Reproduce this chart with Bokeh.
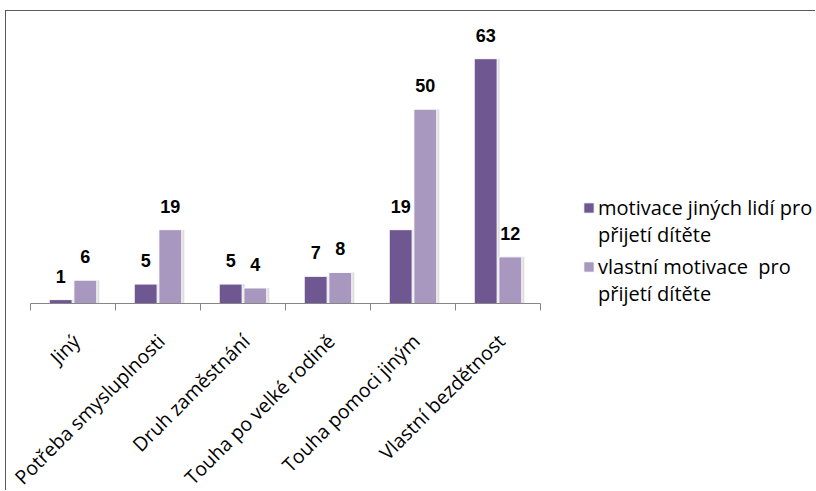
from math import pi
from bokeh.plotting import figure
from bokeh.models import (ColumnDataSource, LabelSet, Legend, LegendItem, Range1d)
from bokeh.core.properties import value
from bokeh.transform import dodge
from bokeh.embed import file_html
from bokeh.resources import INLINE

categories = ["Jiný", "Potřeba smysluplnosti", "Druh zaměstnání",
              "Touha po velké rodině", "Touha pomoci jiným", "Vlastní bezdětnost"]
others = [1, 5, 5, 7, 19, 63]   # motivace jiných lidí pro přijetí dítěte
own = [6, 19, 4, 8, 50, 12]     # vlastní motivace pro přijetí dítěte
series_lines = [["motivace jiných lidí pro", "přijetí dítěte"],
                ["vlastní motivace  pro", "přijetí dítěte"]]
YMAX = 70

DARK = "#6F5791"
LIGHT = "#A898BF"
AXIS = "#868686"
FONT = "Open Sans"

# layout (pixels)
W, H = 810, 480
AREA_LEFT, AREA_TOP = 24, 20   # where the category/value area starts in the canvas
PLOT_W, PLOT_H = 510, 272      # size of the category/value area
PX = PLOT_H / YMAX             # pixels per value unit
TICK = 7
n = len(categories)

xc = [i + 0.5 for i in range(n)]
src = ColumnDataSource(dict(
    x=xc, zero=[0] * n, cat=categories, others=others, own=own,
    others_lbl=[str(v) for v in others], own_lbl=[str(v) for v in own]))
bounds = list(range(n + 1))
tick_src = ColumnDataSource(dict(x=bounds, y0=[0] * len(bounds),
                                 y1=[-TICK / PX] * len(bounds)))

p = figure(width=W, height=H,
           x_range=Range1d(-n * AREA_LEFT / PLOT_W, n * (W - AREA_LEFT) / PLOT_W),
           y_range=Range1d(-YMAX * (H - AREA_TOP - PLOT_H) / PLOT_H,
                           YMAX * (PLOT_H + AREA_TOP) / PLOT_H),
           output_backend="svg", toolbar_location=None,
           min_border=0, x_axis_location=None, y_axis_location=None)
p.styles = {"border-left": "1px solid #5a5a5a", "border-top": "1px solid #5a5a5a",
            "margin-left": "5px", "margin-top": "10px"}
p.grid.visible = False
p.outline_line_color = None

off = 0.145
w = 0.27
sh = 0.03
# soft shadows
p.vbar(x=dodge("x", -off + sh, range=p.x_range), top="others", width=w, source=src,
       fill_color="#c8c8c8", fill_alpha=0.6, line_color=None)
p.vbar(x=dodge("x", off + sh, range=p.x_range), top="own", width=w, source=src,
       fill_color="#c8c8c8", fill_alpha=0.6, line_color=None)
r1 = p.vbar(x=dodge("x", -off, range=p.x_range), top="others", width=w, source=src,
            fill_color=DARK, line_color="white", line_width=1)
r2 = p.vbar(x=dodge("x", off, range=p.x_range), top="own", width=w, source=src,
            fill_color=LIGHT, line_color="white", line_width=1)
blank = p.vbar(x=[], top=[], width=w, fill_alpha=0, line_alpha=0)

# category axis: line, boundary ticks, rotated labels
p.segment(x0=[bounds[0]], y0=[0], x1=[bounds[-1]], y1=[0], line_color=AXIS,
          line_width=1)
p.segment(x0="x", y0="y0", x1="x", y1="y1", source=tick_src, line_color=AXIS,
          line_width=1)
p.add_layout(LabelSet(x="x", y="zero", text="cat", source=src, angle=pi / 4,
                      text_align="right", text_baseline="middle",
                      x_offset=3, y_offset=-34, text_font=value(FONT),
                      text_font_size="19.5px", text_color="black"))

for field, lbl, o in (("others", "others_lbl", -off), ("own", "own_lbl", off)):
    p.add_layout(LabelSet(x=dodge("x", o, range=p.x_range), y=field, text=lbl,
                          source=src, y_offset=17, text_align="center",
                          text_baseline="alphabetic",
                          text_font=value("Liberation Sans"),
                          text_font_style="bold", text_font_size="18px",
                          text_color="black"))

for (l1, l2), r, loc in zip(series_lines, (r1, r2), ((576, 243), (576, 184))):
    lg = Legend(items=[LegendItem(label=l1, renderers=[r]),
                       LegendItem(label=l2, renderers=[blank])],
                location=loc, padding=0, margin=0, border_line_color=None,
                background_fill_alpha=0, glyph_width=13, glyph_height=13,
                label_standoff=3, spacing=0, label_height=20,
                label_text_font=FONT, label_text_font_size="20px",
                label_text_color="black")
    p.add_layout(lg, "center")

open("out.html", "w").write(file_html(p, INLINE))
